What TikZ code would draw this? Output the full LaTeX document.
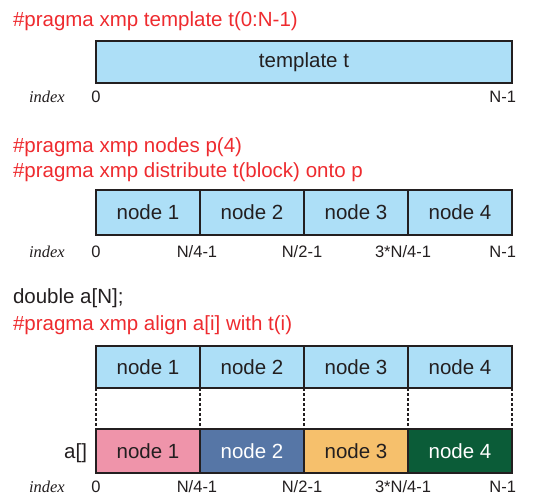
\documentclass[tikz,border=0pt]{standalone}
\usepackage{fontspec}
\setmainfont{Liberation Sans}
\newfontfamily\idxfont{Liberation Serif}
\definecolor{cellblue}{HTML}{ADDFF7}
\definecolor{pinkc}{HTML}{EF94AA}
\definecolor{bluec}{HTML}{5676A6}
\definecolor{orangec}{HTML}{F6C06C}
\definecolor{greenc}{HTML}{0B5C38}
\definecolor{redtxt}{HTML}{EE2B2F}
\definecolor{edge}{HTML}{231F20}
\begin{document}
\begin{tikzpicture}[x=1pt,y=-1pt,
  every node/.style={inner sep=0pt, outer sep=0pt},
  big/.style={font=\fontsize{20.5}{24}\selectfont},
  code/.style={big, text=redtxt, anchor=base west},
  plain/.style={big, text=edge, anchor=base west},
  cell/.style={draw=edge, line width=1.3pt, fill=cellblue, minimum width=104pt, anchor=north west, big, text=edge},
  idx/.style={font=\fontsize{16.5}{18}\selectfont, text=edge, anchor=base},
  idxword/.style={font=\fontsize{16.5}{18}\selectfont\idxfont\itshape, text=edge, anchor=base west},
  dotline/.style={draw=edge, line width=1.3pt, dash pattern=on 2.5pt off 2.5pt}
]
\useasboundingbox (0,0) rectangle (548,497);

% Section 1
\node[code] (c1) at (13,27) {\#pragma xmp template t(0:N-1)};
\node[cell, minimum width=416pt, minimum height=42pt] (tt) at (96,41) {template t};
\node[idxword] (i1) at (29,103) {index};
\node[idx] (a0) at (96,103) {0};
\node[idx, anchor=base east] (a4) at (516,103) {N-1};

% Section 2
\node[code] (c2) at (13,153) {\#pragma xmp nodes p(4)};
\node[code] (c3) at (13,177) {\#pragma xmp distribute t(block) onto p};
\node[cell, minimum height=45pt] (p1) at (96,190) {node 1};
\node[cell, minimum height=45pt] (p2) at (200,190) {node 2};
\node[cell, minimum height=45pt] (p3) at (304,190) {node 3};
\node[cell, minimum height=45pt] (p4) at (408,190) {node 4};
\node[idxword] (i2) at (29,257) {index};
\node[idx] (b0) at (96,257) {0};
\node[idx] (b1) at (197,257) {N/4-1};
\node[idx] (b2) at (302,257) {N/2-1};
\node[idx] (b3) at (403,257) {3*N/4-1};
\node[idx, anchor=base east] (b4) at (516,257) {N-1};

% Section 3
\node[plain] (d1) at (13,303) {double a[N];};
\node[code] (c4) at (13,330) {\#pragma xmp align a[i] with t(i)};
\node[cell, minimum height=42pt] (u1) at (96,346) {node 1};
\node[cell, minimum height=42pt] (u2) at (200,346) {node 2};
\node[cell, minimum height=42pt] (u3) at (304,346) {node 3};
\node[cell, minimum height=42pt] (u4) at (408,346) {node 4};
\node[cell, minimum height=44pt, fill=pinkc] (l1) at (96,429) {node 1};
\node[cell, minimum height=44pt, fill=bluec, text=white] (l2) at (200,429) {node 2};
\node[cell, minimum height=44pt, fill=orangec] (l3) at (304,429) {node 3};
\node[cell, minimum height=44pt, fill=greenc, text=white] (l4) at (408,429) {node 4};
\node[plain, anchor=base east] (al) at (87,458) {a[]};
\draw[dotline] (u1.south west) -- (l1.north west);
\draw[dotline] (u2.south west) -- (l2.north west);
\draw[dotline] (u3.south west) -- (l3.north west);
\draw[dotline] (u4.south west) -- (l4.north west);
\draw[dotline] (u4.south east) -- (l4.north east);
\node[idxword] (i3) at (29,492) {index};
\node[idx] (e0) at (96,492) {0};
\node[idx] (e1) at (197,492) {N/4-1};
\node[idx] (e2) at (302,492) {N/2-1};
\node[idx] (e3) at (403,492) {3*N/4-1};
\node[idx, anchor=base east] (e4) at (516,492) {N-1};
\end{tikzpicture}
\end{document}
